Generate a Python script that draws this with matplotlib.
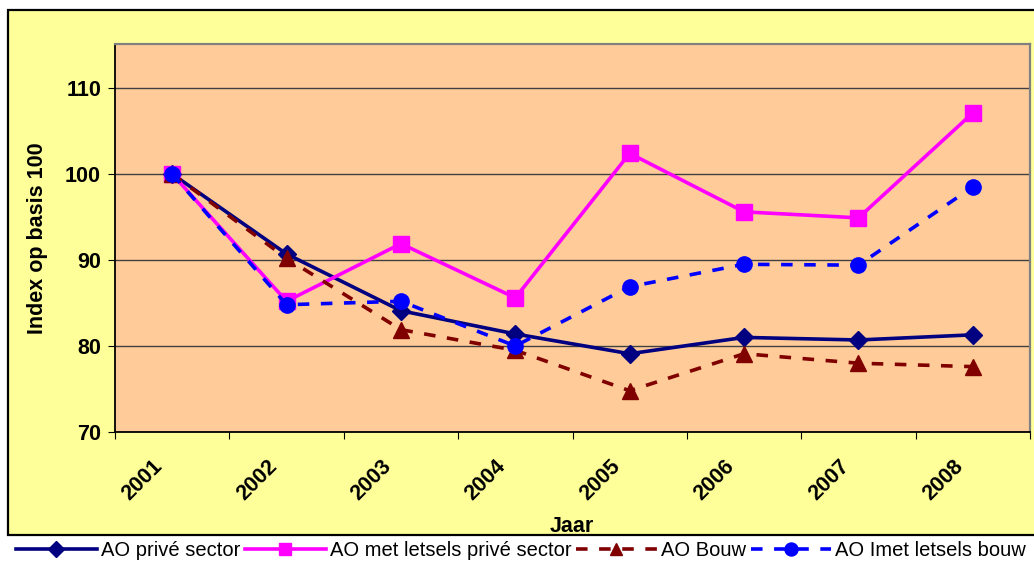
import matplotlib
matplotlib.use("Agg")
import matplotlib.pyplot as plt
from matplotlib.patches import Rectangle
from matplotlib.ticker import FixedLocator, NullFormatter
from matplotlib.transforms import ScaledTranslation

years = ["2001", "2002", "2003", "2004", "2005", "2006", "2007", "2008"]
ao_prive = [100, 90.7, 84.1, 81.4, 79.1, 81.0, 80.7, 81.3]
ao_letsels_prive = [100, 85.2, 91.9, 85.6, 102.4, 95.6, 94.9, 107.1]
ao_bouw = [100, 90.2, 81.9, 79.5, 74.8, 79.1, 78.0, 77.6]
ao_letsels_bouw = [100, 84.8, 85.2, 80.0, 86.9, 89.5, 89.4, 98.5]
yticks = [70, 80, 90, 100, 110]

plt.rcParams['font.family'] = ['Liberation Sans', 'DejaVu Sans']

W, H = 1034, 567
fs = 15.5
fig = plt.figure(figsize=(W / 100, H / 100), dpi=100, facecolor='white')

# yellow chart area with black frame
bg = Rectangle((8 / W, 1 - 535 / H), 1.2, (535 - 10) / H,
               transform=fig.transFigure, facecolor='#FFFF99',
               edgecolor='#000000', linewidth=1.6, zorder=-10)
fig.add_artist(bg)

ax = fig.add_axes([115 / W, 1 - 432 / H, (1030 - 115) / W, (432 - 44) / H])
ax.set_zorder(1)
ax.set_facecolor('#FFCC99')

x = list(range(len(years)))
lw = 2.6
ax.plot(x, ao_prive, color='#000080', lw=lw, marker='D', ms=9, zorder=3,
        label='AO privé sector')
ax.plot(x, ao_letsels_prive, color='#FF00FF', lw=lw, marker='s', ms=11, zorder=4,
        label='AO met letsels privé sector')
ax.plot(x, ao_bouw, color='#800000', lw=lw, marker='^', ms=11, zorder=5,
        dashes=(3.2, 3.2), label='AO Bouw')
ax.plot(x, ao_letsels_bouw, color='#0000FF', lw=lw, marker='o', ms=11, zorder=6,
        dashes=(3.2, 3.2), label='AO Imet letsels bouw')

ax.set_xlim(-0.5, len(years) - 0.5)
ax.set_ylim(70, 70 + (432 - 44) / 8.6)
ax.set_yticks(yticks)
ax.set_yticklabels([str(v) for v in yticks], fontsize=fs, fontweight='bold')
ax.yaxis.grid(True, color='#404040', lw=1)
ax.set_axisbelow(True)

ax.xaxis.set_major_locator(FixedLocator([i - 0.5 for i in range(len(years) + 1)]))
ax.xaxis.set_major_formatter(NullFormatter())
ax.xaxis.set_minor_locator(FixedLocator(x))
ax.set_xticklabels(years, minor=True, fontsize=fs, fontweight='bold',
                   rotation=45, ha='right', va='top', rotation_mode='anchor')
ax.tick_params(axis='x', which='minor', length=0, pad=17)
ax.tick_params(axis='x', which='major', length=5, direction='out', color='#000000')
ax.tick_params(axis='y', length=5, direction='out', pad=5)

for s in ['left', 'bottom']:
    ax.spines[s].set_color('#000000')
    ax.spines[s].set_linewidth(1.3)
for s in ['right', 'top']:
    ax.spines[s].set_color('#808080')
    ax.spines[s].set_linewidth(1.6)

ax.set_ylabel('Index op basis 100', fontsize=fs, fontweight='bold', labelpad=12)
fig.text(572 / W, 1 - 526 / H, 'Jaar', fontsize=fs, fontweight='bold',
         ha='center', va='center')

leg = fig.legend(loc='center', bbox_to_anchor=(8 / W, 0, 1 - 8 / W, 32 / H),
                 mode='expand', ncol=4, fontsize=14.5, handlelength=4.0,
                 handletextpad=0.2, columnspacing=0.5, borderaxespad=0,
                 frameon=False, markerscale=0.85)

# shift rotated year labels left, like the reference
fig.canvas.draw()
off = ScaledTranslation(-0.2, 0, fig.dpi_scale_trans)
for tick in ax.xaxis.get_minor_ticks():
    tick.label1.set_transform(tick.label1.get_transform() + off)

fig.savefig('out.png', dpi=100, facecolor='white')
